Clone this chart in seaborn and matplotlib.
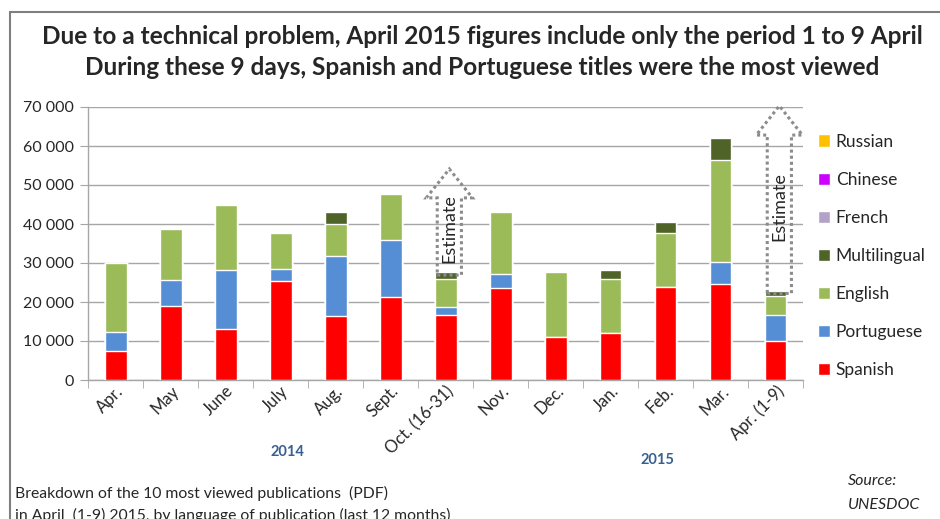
import pandas as pd
import matplotlib.pyplot as plt
import seaborn as sns
from matplotlib.patches import Patch, Polygon
from matplotlib.lines import Line2D
from matplotlib.ticker import FuncFormatter, FixedLocator

# Données
mois = ['Apr.', 'May', 'June', 'July', 'Aug.', 'Sept.', 'Oct. (16-31)',
        'Nov.', 'Dec.', 'Jan.', 'Feb.', 'Mar.', 'Apr. (1-9)']
spanish = [7500, 19000, 13000, 25400, 16500, 21300, 16700, 23600, 11100, 12100, 23800, 24700, 9900]
portuguese = [4700, 6600, 15300, 3000, 15400, 14600, 2100, 3700, 0, 0, 0, 5600, 6800]
english = [17900, 13000, 16700, 9200, 8100, 11900, 7200, 15900, 16600, 13800, 13800, 26200, 4800]
multilingual = [0, 0, 0, 0, 3200, 0, 1600, 0, 0, 2400, 2900, 5600, 1400]
french = [0] * 13
chinese = [0] * 13
russian = [0] * 13
estimativas = ['Oct. (16-31)', 'Apr. (1-9)']

langues = ['Spanish', 'Portuguese', 'English', 'Multilingual', 'French', 'Chinese', 'Russian']
couleurs = ['#FF0000', '#558ED5', '#9BBB59', '#4F6228', '#B3A2C7', '#CC00FF', '#FFC000']

df = pd.DataFrame({'Mois': mois, 'Spanish': spanish, 'Portuguese': portuguese,
                   'English': english, 'Multilingual': multilingual,
                   'French': french, 'Chinese': chinese, 'Russian': russian})
cumul = df[langues].cumsum(axis=1)
cumul['Mois'] = mois

sns.set_style('white')
plt.rcParams['font.family'] = ['Lato', 'DejaVu Sans']

fig = plt.figure(figsize=(9.4, 5.19), dpi=100)
ax = fig.add_axes([88 / 940, 1 - 380 / 519, (803 - 88) / 940, (380 - 107) / 519])

# barres empilées : on dessine les cumuls du plus haut au plus bas
for lang, coul in reversed(list(zip(langues, couleurs))):
    sns.barplot(data=cumul, x='Mois', y=lang, order=mois, color=coul,
                width=0.4, saturation=1, ax=ax, zorder=3)

ax.set_xlim(-0.5, len(mois) - 0.5)
ax.set_ylim(0, 70000)
ax.set_yticks(range(0, 70001, 10000))
ax.yaxis.set_major_formatter(FuncFormatter(lambda v, p: f'{int(v):,}'.replace(',', ' ')))
ax.grid(axis='y', color='#A6A6A6', lw=1, zorder=0)
ax.set_xlabel('')
ax.set_ylabel('')
for s in ['top', 'right']:
    ax.spines[s].set_visible(False)
for s in ['left', 'bottom']:
    ax.spines[s].set_color('#A6A6A6')
    ax.spines[s].set_linewidth(1)

ax.tick_params(axis='y', length=6, color='#A6A6A6', labelsize=11.5, pad=4, left=True)
ax.tick_params(axis='x', which='major', length=0, labelsize=12, pad=2)
ax.xaxis.set_minor_locator(FixedLocator([i - 0.5 for i in range(len(mois) + 1)]))
ax.tick_params(axis='x', which='minor', length=6, color='#A6A6A6', bottom=True)
for lab in ax.get_xticklabels():
    lab.set_rotation(45)
    lab.set_ha('right')
    lab.set_rotation_mode('anchor')

# flèches "Estimate"
totaux = cumul['Russian'].tolist()
hauts = {'Oct. (16-31)': (46700, 54100), 'Apr. (1-9)': (62800, 70300)}
for m in estimativas:
    i = mois.index(m)
    cx = i + 0.07
    base = totaux[i] - 700
    haut, pointe = hauts[m]
    pts = [(cx - 0.22, base), (cx + 0.22, base), (cx + 0.22, haut), (cx + 0.42, haut),
           (cx, pointe), (cx - 0.42, haut), (cx - 0.22, haut)]
    ax.add_patch(Polygon(pts, closed=True, fill=False, ec='#8C8C8C', lw=2.2,
                         ls=(0, (1, 1)), zorder=5, clip_on=False))
    ax.text(cx, (base + haut) / 2 + 2000, 'Estimate', rotation=90, ha='center',
            va='center', fontsize=13, zorder=6)

# légende
poignees = [Patch(facecolor=c, label=l) for l, c in zip(langues, couleurs)][::-1]
fig.legend(handles=poignees, loc='upper left', bbox_to_anchor=(802 / 940, 1 - 118 / 519),
           frameon=False, fontsize=12.5, handlelength=0.7, handleheight=0.7,
           handletextpad=0.35, labelspacing=1.27)

# titre et textes
fig.text(482 / 940, 1 - 36 / 519, 'Due to a technical problem, April 2015 figures include only the period 1 to 9 April',
         ha='center', va='center', fontsize=17.6, fontweight='bold')
fig.text(482 / 940, 1 - 67 / 519, 'During these 9 days, Spanish and Portuguese titles were the most viewed',
         ha='center', va='center', fontsize=17.6, fontweight='bold')
fig.text(287 / 940, 1 - 452 / 519, '2014', ha='center', va='center', fontsize=10.5,
         fontweight='bold', color='#376092')
fig.text(657 / 940, 1 - 460 / 519, '2015', ha='center', va='center', fontsize=10.5,
         fontweight='bold', color='#376092')
fig.text(15 / 940, 1 - 493 / 519, 'Breakdown of the 10 most viewed publications  (PDF)',
         ha='left', va='center', fontsize=11.3)
fig.text(15 / 940, 1 - 515 / 519, 'in April  (1-9) 2015, by language of publication (last 12 months)',
         ha='left', va='center', fontsize=11.3)
fig.text(848 / 940, 1 - 481 / 519, 'Source:', ha='left', va='center', fontsize=11.5, style='italic')
fig.text(848 / 940, 1 - 505 / 519, 'UNESDOC', ha='left', va='center', fontsize=11.5, style='italic')

# cadre
fig.add_artist(Line2D([10 / 940, 1], [1 - 12 / 519] * 2, color='#7F7F7F', lw=1.5))
fig.add_artist(Line2D([10 / 940] * 2, [0, 1 - 12 / 519], color='#7F7F7F', lw=1.5))

fig.savefig('out.png', dpi=100)
